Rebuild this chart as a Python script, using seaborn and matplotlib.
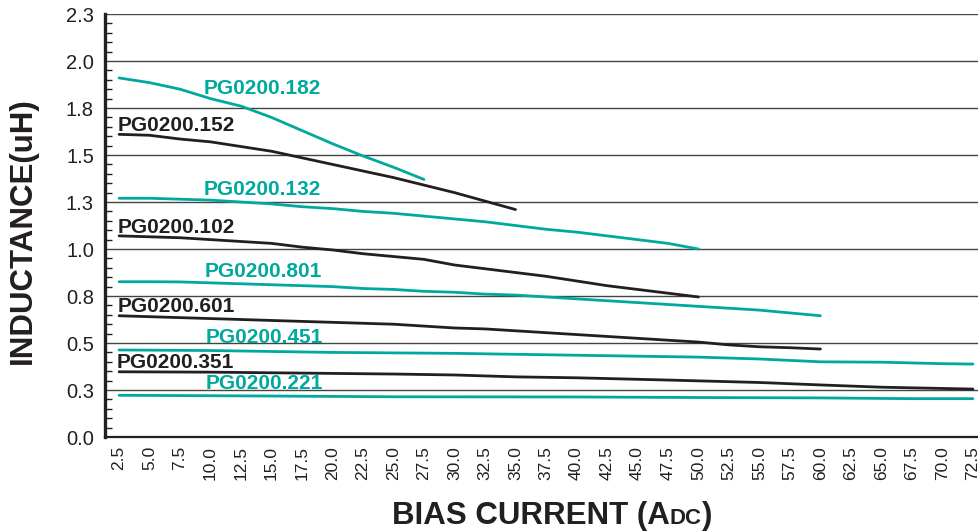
import numpy as np
import pandas as pd
import matplotlib
matplotlib.use("Agg")
import matplotlib.pyplot as plt
from matplotlib.ticker import MultipleLocator, FixedLocator
import seaborn as sns

# values
x182 = [2.5, 5.0, 7.5, 10.0, 12.5, 15.0, 17.5, 20.0, 22.5, 25.0, 27.5]
y182 = [1.91, 1.885, 1.85, 1.80, 1.76, 1.70, 1.63, 1.56, 1.495, 1.435, 1.37]

x152 = [2.5, 5.0, 7.5, 10.0, 12.5, 15.0, 17.5, 20.0, 22.5, 25.0, 27.5, 30.0, 32.5, 35.0]
y152 = [1.61, 1.605, 1.585, 1.57, 1.545, 1.52, 1.485, 1.45, 1.415, 1.38, 1.34, 1.30, 1.255, 1.21]

x132 = [2.5, 5.0, 7.5, 10.0, 12.5, 15.0, 17.5, 20.0, 22.5, 25.0, 27.5, 30.0, 32.5, 35.0,
        37.5, 40.0, 42.5, 45.0, 47.5, 50.0]
y132 = [1.27, 1.27, 1.265, 1.26, 1.25, 1.24, 1.225, 1.215, 1.20, 1.19, 1.175, 1.16, 1.145,
        1.125, 1.105, 1.09, 1.07, 1.05, 1.03, 1.0]

x102 = [2.5, 5.0, 7.5, 10.0, 12.5, 15.0, 17.5, 20.0, 22.5, 25.0, 27.5, 30.0, 32.5, 35.0,
        37.5, 40.0, 42.5, 45.0, 47.5, 50.0]
y102 = [1.07, 1.065, 1.06, 1.05, 1.04, 1.03, 1.01, 0.995, 0.975, 0.96, 0.945, 0.915, 0.895,
        0.875, 0.855, 0.83, 0.805, 0.785, 0.765, 0.745]

x801 = [2.5, 5.0, 7.5, 10.0, 12.5, 15.0, 17.5, 20.0, 22.5, 25.0, 27.5, 30.0, 32.5, 35.0,
        37.5, 40.0, 42.5, 45.0, 47.5, 50.0, 52.5, 55.0, 57.5, 60.0]
y801 = [0.826, 0.826, 0.825, 0.82, 0.815, 0.81, 0.805, 0.80, 0.79, 0.785, 0.775, 0.77, 0.76,
        0.755, 0.745, 0.735, 0.725, 0.715, 0.705, 0.695, 0.685, 0.675, 0.66, 0.645]

x601 = [2.5, 5.0, 7.5, 10.0, 12.5, 15.0, 17.5, 20.0, 22.5, 25.0, 27.5, 30.0, 32.5, 35.0,
        37.5, 40.0, 42.5, 45.0, 47.5, 50.0, 52.5, 55.0, 57.5, 60.0]
y601 = [0.645, 0.64, 0.635, 0.63, 0.625, 0.62, 0.615, 0.61, 0.605, 0.60, 0.59, 0.58, 0.575,
        0.565, 0.555, 0.545, 0.535, 0.525, 0.515, 0.505, 0.49, 0.48, 0.475, 0.468]

x451 = [2.5, 10.0, 15.0, 20.0, 30.0, 40.0, 50.0, 55.0, 60.0, 65.0, 70.0, 72.5]
y451 = [0.463, 0.46, 0.455, 0.45, 0.445, 0.435, 0.425, 0.415, 0.40, 0.398, 0.39, 0.388]

x351 = [2.5, 10.0, 17.5, 25.0, 30.0, 35.0, 40.0, 47.5, 55.0, 60.0, 65.0, 72.5]
y351 = [0.347, 0.345, 0.34, 0.335, 0.33, 0.32, 0.315, 0.303, 0.29, 0.277, 0.265, 0.255]

x221 = [2.5, 15.0, 25.0, 40.0, 50.0, 60.0, 67.5, 72.5]
y221 = [0.222, 0.218, 0.214, 0.213, 0.21, 0.208, 0.204, 0.204]

names = ["PG0200.182", "PG0200.152", "PG0200.132", "PG0200.102", "PG0200.801",
         "PG0200.601", "PG0200.451", "PG0200.351", "PG0200.221"]
xs = [x182, x152, x132, x102, x801, x601, x451, x351, x221]
ys = [y182, y152, y132, y102, y801, y601, y451, y351, y221]

x_ticks = np.arange(2.5, 72.6, 2.5)
y_ticks = [0.0, 0.25, 0.5, 0.75, 1.0, 1.25, 1.5, 1.75, 2.0, 2.25]
y_ticklabels = ["0.0", "0.3", "0.5", "0.8", "1.0", "1.3", "1.5", "1.8", "2.0", "2.3"]

TEAL = "#00a99d"
DARK = "#231f20"
colors = [TEAL, DARK, TEAL, DARK, TEAL, DARK, TEAL, DARK, TEAL]

# where each label sits (left edge, vertical centre) in data units
label_pos = {
    "PG0200.182": (9.4, 1.855),
    "PG0200.152": (2.4, 1.655),
    "PG0200.132": (9.4, 1.315),
    "PG0200.102": (2.4, 1.115),
    "PG0200.801": (9.5, 0.88),
    "PG0200.601": (2.4, 0.692),
    "PG0200.451": (9.6, 0.527),
    "PG0200.351": (2.3, 0.394),
    "PG0200.221": (9.6, 0.282),
}

sns.set_style("white")
plt.rcParams["font.family"] = ["Liberation Sans", "DejaVu Sans"]

fig = plt.figure(figsize=(9.79, 5.31), dpi=100)
ax = fig.add_axes([0.1073, 0.177, 0.8927, 0.7966])

for name, xv, yv, c in zip(names, xs, ys, colors):
    df = pd.DataFrame({"bias": xv, "L": yv})
    sns.lineplot(data=df, x="bias", y="L", ax=ax, color=c, linewidth=2.0)
    lx, ly = label_pos[name]
    ax.text(lx, ly, name, color=c, fontsize=15, fontweight="bold", ha="left", va="center")

ax.set_xlim(1.35, 73.0)
ax.set_ylim(0, 2.25)

ax.xaxis.set_major_locator(FixedLocator(x_ticks))
ax.set_xticklabels([f"{v:.1f}" for v in x_ticks], rotation=90, fontsize=12.5)
ax.xaxis.set_minor_locator(MultipleLocator(1.25))
ax.tick_params(axis="x", which="major", direction="inout", length=9, width=1.2, pad=2, colors=DARK)
ax.tick_params(axis="x", which="minor", direction="in", length=5, width=1.2, colors=DARK)

ax.set_yticks(y_ticks)
ax.set_yticklabels(y_ticklabels, fontsize=14.5)
ax.yaxis.set_minor_locator(MultipleLocator(0.05))
ax.tick_params(axis="y", which="major", direction="out", length=5, width=1.2, pad=3, colors=DARK)
ax.tick_params(axis="y", which="minor", direction="in", length=5, width=1.0, colors=DARK, left=True)
ax.tick_params(labelcolor=DARK)

ax.grid(axis="y", which="major", color="#444444", linewidth=1.0)
ax.grid(axis="x", visible=False)
ax.set_axisbelow(True)

for s in ["top", "right"]:
    ax.spines[s].set_visible(False)
ax.spines["left"].set_linewidth(2.4)
ax.spines["left"].set_color(DARK)
ax.spines["bottom"].set_linewidth(1.6)
ax.spines["bottom"].set_color(DARK)

ax.set_xlabel("")
ax.set_ylabel("INDUCTANCE(uH)", fontsize=22.5, fontweight="bold", color=DARK)
ax.yaxis.set_label_coords(-0.077, 0.487)

# x axis title with small caps "DC"
fig.canvas.draw()
r = fig.canvas.get_renderer()
parts = [("BIAS CURRENT (A", 22.5), ("DC", 16), (")", 22.5)]
texts = []
for s, fs in parts:
    t = fig.text(0, 0.013, s, fontsize=fs, fontweight="bold",
                 ha="left", va="baseline", color=DARK)
    texts.append(t)
widths = [t.get_window_extent(r).width for t in texts]
total = sum(widths)
x0 = 552 - total / 2
for t, w in zip(texts, widths):
    t.set_x(x0 / 979)
    x0 += w

fig.savefig("out.png", dpi=100)
